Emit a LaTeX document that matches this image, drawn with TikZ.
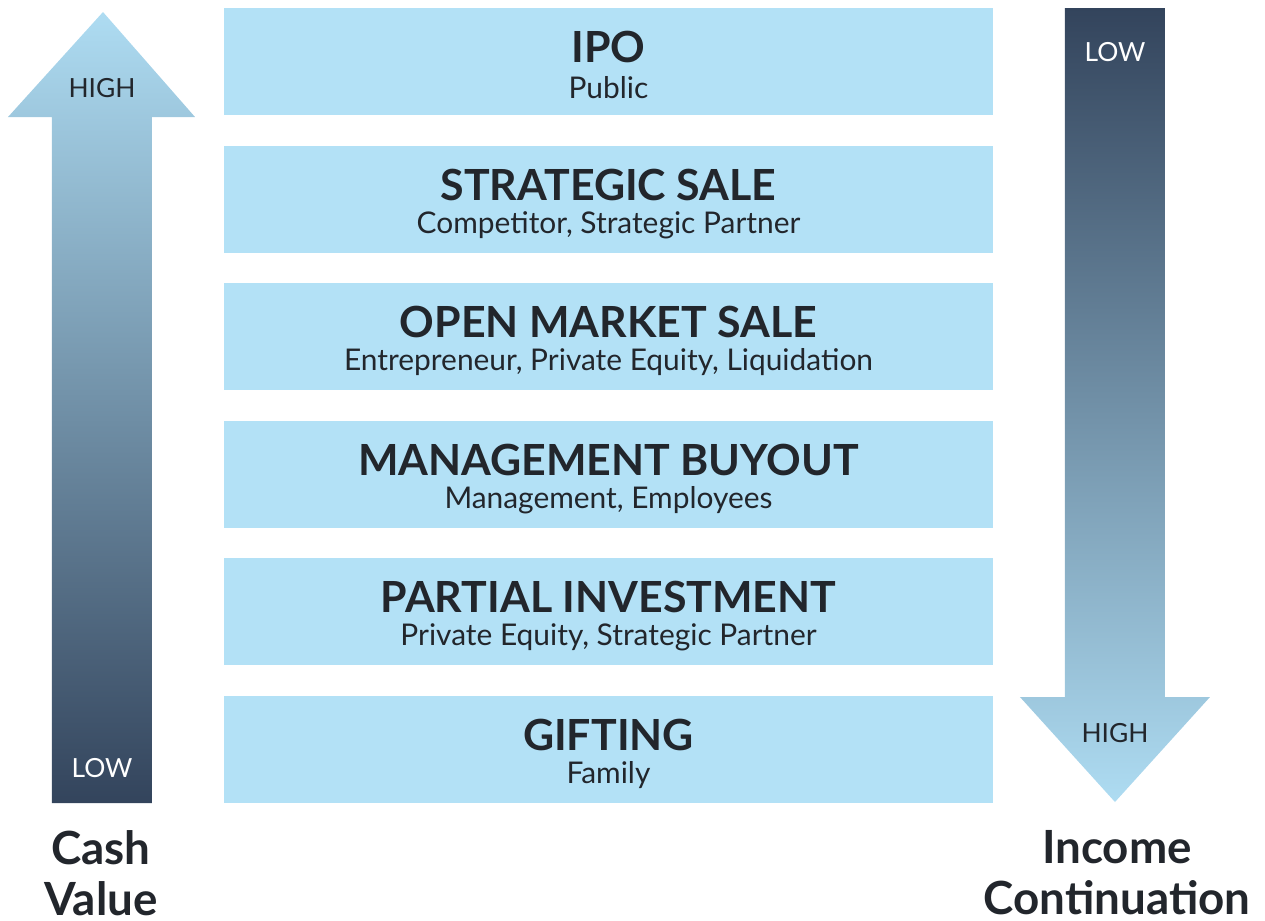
\documentclass[tikz,border=0pt]{standalone}
\usepackage{fontspec}
\setmainfont{Lato}
\usepackage{xcolor}
\usetikzlibrary{positioning}

\definecolor{barblue}{HTML}{B3E1F6}
\definecolor{lightblue}{HTML}{AEDCF2}
\definecolor{navy}{HTML}{33445C}
\definecolor{ink}{HTML}{22262C}

\tikzset{
	bar/.style={fill=barblue, minimum width=7.69cm, minimum height=1.07cm, inner sep=0pt},
	title/.style={font=\bfseries\fontsize{12.2}{14}\selectfont, text=ink},
	sub/.style={font=\fontsize{8.5}{10}\selectfont, text=ink},
	level/.style={font=\fontsize{7.5}{9}\selectfont},
	axis/.style={font=\bfseries\fontsize{13}{14.5}\selectfont, text=ink, align=center}
}

\begin{document}
\begin{tikzpicture}[x=0.01cm, y=-0.01cm]
		\useasboundingbox (0,0) rectangle (1265,920);

		% Cash value arrow (pointing up)
		\shade[top color=lightblue, bottom color=navy]
			(52,803) -- (52,117) -- (8,117) -- (103,12) -- (195,117) -- (152,117) -- (152,803) -- cycle;
		\node[level, text=ink] (cashhigh) at (102,88) {HIGH};
		\node[level, text=white] (cashlow) at (102,768) {LOW};
		\node[axis] (cash) at (101,873) {Cash\\Value};

		% Income continuation arrow (pointing down)
		\shade[top color=navy, bottom color=lightblue]
			(1065,8) -- (1165,8) -- (1165,697) -- (1210,697) -- (1115,802) -- (1020,697) -- (1065,697) -- cycle;
		\node[level, text=white] (inclow) at (1115,52) {LOW};
		\node[level, text=ink] (inchigh) at (1115,733) {HIGH};
		\node[axis] (income) at (1117,873) {Income\\Continuation};

		% Exit options
		\node[bar] (ipo) at (608.5,61.5) {};
		\node[bar] (strategic) at (608.5,199.5) {};
		\node[bar] (market) at (608.5,336.5) {};
		\node[bar] (buyout) at (608.5,474.5) {};
		\node[bar] (partial) at (608.5,611.5) {};
		\node[bar] (gifting) at (608.5,749.5) {};

		\node[title] at ([yshift=0.145cm]ipo.center) {IPO};
		\node[sub] at ([yshift=-0.26cm]ipo.center) {Public};
		\node[title] at ([yshift=0.145cm]strategic.center) {STRATEGIC SALE};
		\node[sub] at ([yshift=-0.26cm]strategic.center) {Competitor, Strategic Partner};
		\node[title] at ([yshift=0.145cm]market.center) {OPEN MARKET SALE};
		\node[sub] at ([yshift=-0.26cm]market.center) {Entrepreneur, Private Equity, Liquidation};
		\node[title] at ([yshift=0.145cm]buyout.center) {MANAGEMENT BUYOUT};
		\node[sub] at ([yshift=-0.26cm]buyout.center) {Management, Employees};
		\node[title] at ([yshift=0.145cm]partial.center) {PARTIAL INVESTMENT};
		\node[sub] at ([yshift=-0.26cm]partial.center) {Private Equity, Strategic Partner};
		\node[title] at ([yshift=0.145cm]gifting.center) {GIFTING};
		\node[sub] at ([yshift=-0.26cm]gifting.center) {Family};
	\end{tikzpicture}
\end{document}
